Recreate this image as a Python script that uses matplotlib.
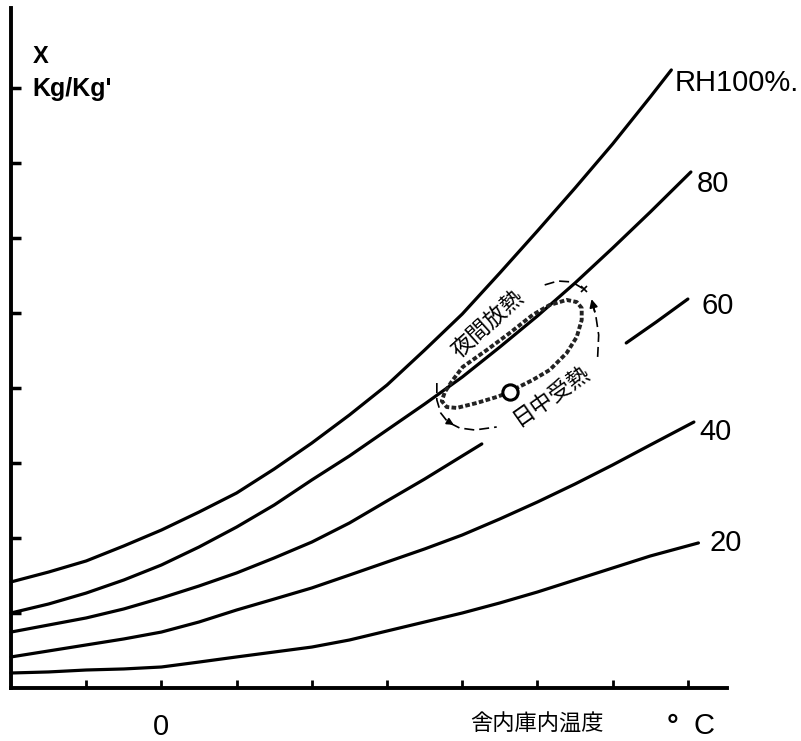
import matplotlib.pyplot as plt

plt.rcParams['font.family'] = ['DejaVu Sans', 'Noto Sans CJK JP']

# temperature (deg C) vs absolute humidity X (kg/kg')
t_grid = [-10, -7.5, -5, -2.5, 0, 2.5, 5, 7.5, 10, 12.5, 15, 17.5, 20, 22.5, 25, 27.5, 30, 32.5]
rh100_t = t_grid + [33.9]
rh100_x = [0.00707, 0.00773, 0.00847, 0.00947, 0.01053, 0.01173, 0.0130, 0.0146, 0.01633,
           0.0182, 0.0202, 0.02253, 0.02493, 0.02767, 0.03047, 0.03333, 0.03627, 0.0394, 0.0412]
rh80_t = t_grid + [35.2]
rh80_x = [0.0050, 0.0056, 0.00633, 0.0072, 0.0082, 0.0094, 0.01073, 0.0122, 0.01387,
          0.01547, 0.0172, 0.01893, 0.02073, 0.02273, 0.0248, 0.0270, 0.02933, 0.03173, 0.0344]
rh60_t = t_grid[:13] + [21.3]
rh60_x = [0.00373, 0.0042, 0.00467, 0.00527, 0.0060, 0.0068, 0.00767, 0.00867, 0.00973,
          0.0110, 0.01247, 0.01393, 0.01547, 0.01627]
rh60_t2 = [30.9, 32.9, 35.0]
rh60_x2 = [0.0230, 0.0244, 0.02593]
rh40_t = t_grid + [35.4]
rh40_x = [0.00207, 0.00247, 0.00287, 0.00327, 0.00373, 0.0044, 0.0052, 0.00593, 0.00667,
          0.00753, 0.0084, 0.00927, 0.0102, 0.01127, 0.0124, 0.0136, 0.01487, 0.0162, 0.01773]
rh20_t = t_grid + [35.7]
rh20_x = [0.0010, 0.00107, 0.0012, 0.00127, 0.0014, 0.00173, 0.00207, 0.0024, 0.00273,
          0.0032, 0.0038, 0.0044, 0.0050, 0.00567, 0.0064, 0.0072, 0.0080, 0.0088, 0.00967]

# daily cycle loop (starts at the open circle)
loop_t = [23.16, 22.29, 20.96, 19.63, 18.97, 18.64, 18.84, 19.37, 20.03, 21.63, 23.16,
          24.68, 25.81, 26.94, 27.61, 27.94, 27.94, 27.61, 26.94, 25.81, 24.68, 23.62, 23.16]
loop_x = [0.01973, 0.0194, 0.0190, 0.01867, 0.01873, 0.01913, 0.01973, 0.02053, 0.0214,
          0.02253, 0.02367, 0.02487, 0.02553, 0.02587, 0.02573, 0.02533, 0.02453, 0.0234,
          0.02233, 0.0212, 0.02053, 0.0200, 0.01973]
arc_left_t = [18.31, 18.31, 18.57, 19.04, 19.83, 20.83, 22.29]
arc_left_x = [0.02033, 0.0192, 0.01833, 0.01773, 0.01733, 0.0172, 0.0174]
arc_top_t = [25.48, 26.35, 27.28, 28.07]
arc_top_x = [0.02687, 0.02713, 0.02707, 0.0266]
arc_right_t = [29.0, 29.07, 28.87, 28.6]
arc_right_x = [0.02207, 0.02353, 0.02487, 0.02587]

xticks = [-5, 0, 5, 10, 15, 20, 25, 30, 35]
xticklabels = ['', '0', '', '', '', '', '', '', '']
yticks = [0.005, 0.010, 0.015, 0.020, 0.025, 0.030, 0.035, 0.040]

fig = plt.figure(figsize=(8.01, 7.41), dpi=100)
ax = fig.add_axes([11/801, 53/741, 716/801, 680/741])
ax.set_xlim(-10, 37.6)
ax.set_ylim(0, 0.04533)
for s in ['top', 'right']:
    ax.spines[s].set_visible(False)
for s in ['left', 'bottom']:
    ax.spines[s].set_linewidth(2.8)

ax.set_xticks(xticks)
ax.set_xticklabels(xticklabels, fontsize=21, family='Liberation Sans')
ax.set_yticks(yticks)
ax.set_yticklabels([])
ax.tick_params(axis='x', direction='in', length=6, width=2, pad=18)
ax.tick_params(axis='y', direction='in', length=7, width=2.5)

lw = 2.3
for t, x in [(rh100_t, rh100_x), (rh80_t, rh80_x), (rh60_t, rh60_x), (rh60_t2, rh60_x2),
             (rh40_t, rh40_x), (rh20_t, rh20_x)]:
    ax.plot(t, x, color='black', lw=lw, solid_capstyle='round', solid_joinstyle='round',
            clip_on=False)

ax.plot(loop_t, loop_x, color='#222222', lw=2.8, linestyle=(0, (1.2, 0.6)), zorder=3)
ax.plot([loop_t[0]], [loop_x[0]], 'o', ms=11, mfc='white', mec='black', mew=2.2, zorder=4)

ax.plot(arc_left_t, arc_left_x, color='black', lw=1.2, linestyle=(0, (6, 3)))
ax.plot(arc_top_t, arc_top_x, color='black', lw=1.2, linestyle=(0, (6, 3)))
ax.plot(arc_right_t, arc_right_x, color='black', lw=1.2, linestyle=(0, (6, 3)))
ax.plot([28.07], [0.0266], 'x', ms=5, mew=1.2, color='black')
ax.annotate('', xy=(28.55, 0.0261), xytext=(28.85, 0.0249),
            arrowprops=dict(arrowstyle='-|>', color='black', lw=1.2, mutation_scale=12))
ax.annotate('', xy=(19.6, 0.01745), xytext=(19.0, 0.0178),
            arrowprops=dict(arrowstyle='-|>', color='black', lw=1.2, mutation_scale=10))

ax.text(21.7, 0.02427, '夜間放熱', rotation=42, rotation_mode='anchor', ha='center',
        va='center', fontsize=16, family='Noto Sans CJK JP')
ax.text(25.88, 0.01953, '日中受熱', rotation=35, rotation_mode='anchor', ha='center',
        va='center', fontsize=16, family='Noto Sans CJK JP')

lab = dict(fontsize=21, ha='left', va='center', clip_on=False, family='Liberation Sans')
ax.text(34.12, 0.04033, 'RH100%.', **lab)
ax.text(35.58, 0.0336, '80', **lab)
ax.text(35.92, 0.02547, '60', **lab)
ax.text(35.78, 0.01707, '40', **lab)
ax.text(36.45, 0.00967, '20', **lab)

fig.text(33/801, 1 - 63/741, 'X', fontsize=17, fontweight='bold', va='baseline',
         family='Liberation Sans')
fig.text(32/801, 1 - 96/741, "Kg/Kg'", fontsize=18, fontweight='bold', va='baseline',
         family='Liberation Sans')
fig.text(537/801, 1 - 724/741, '舎内庫内温度', fontsize=16, ha='center', va='center',
         family='Noto Sans CJK JP')
fig.text(673/801, 1 - 727/741, '°', fontsize=20, fontweight='bold', ha='center', va='center')
fig.text(704/801, 1 - 726/741, 'C', fontsize=21, ha='center', va='center',
         family='Liberation Sans')

plt.savefig('out.png', dpi=100)
